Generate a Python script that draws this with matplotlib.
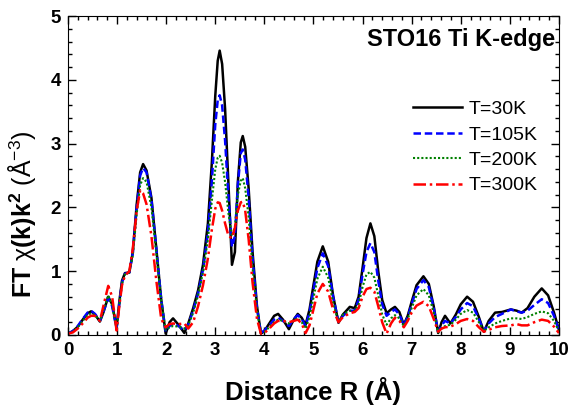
import matplotlib
matplotlib.use("Agg")
import matplotlib.pyplot as plt
from matplotlib.ticker import MultipleLocator

plt.rcParams['font.family'] = ['Liberation Sans', 'DejaVu Sans']
plt.rcParams['mathtext.fontset'] = 'custom'
plt.rcParams['mathtext.bf'] = 'Liberation Sans:bold'
plt.rcParams['mathtext.rm'] = 'Liberation Sans'
plt.rcParams['mathtext.it'] = 'Liberation Sans'

# distance grid (Angstrom)
R = [0.0, 0.1, 0.2, 0.3, 0.4, 0.47, 0.55, 0.65, 0.72, 0.82, 0.9, 0.99,
     1.05, 1.1, 1.16, 1.25, 1.32, 1.4, 1.47, 1.53, 1.6, 1.7, 1.8, 1.9,
     1.99, 2.07, 2.14, 2.25, 2.37, 2.45, 2.55, 2.65, 2.75, 2.85, 2.93, 3.0,
     3.05, 3.09, 3.14, 3.2, 3.27, 3.34, 3.4, 3.46, 3.52, 3.56, 3.61, 3.68,
     3.76, 3.85, 3.93, 4.0, 4.1, 4.2, 4.28, 4.38, 4.5, 4.6, 4.68, 4.76,
     4.84, 4.92, 5.0, 5.08, 5.19, 5.3, 5.4, 5.51, 5.6, 5.74, 5.84, 5.92,
     6.0, 6.08, 6.16, 6.24, 6.32, 6.4, 6.49, 6.58, 6.66, 6.75, 6.84, 6.92,
     7.0, 7.1, 7.24, 7.35, 7.45, 7.54, 7.61, 7.68, 7.79, 7.9, 8.0, 8.13,
     8.25, 8.37, 8.47, 8.57, 8.7, 8.84, 9.02, 9.14, 9.24, 9.36, 9.5, 9.65,
     9.78, 9.9, 10.0]

ft_30K = [0.02, 0.06, 0.13, 0.24, 0.34, 0.37, 0.32, 0.21, 0.35, 0.60, 0.48, 0.11,
          0.55, 0.85, 0.97, 0.98, 1.30, 2.05, 2.55, 2.68, 2.58, 2.15, 1.35, 0.55,
          0.02, 0.20, 0.26, 0.16, 0.03, 0.18, 0.42, 0.70, 1.10, 1.75, 2.70, 3.75,
          4.30, 4.46, 4.25, 3.55, 2.35, 1.10, 1.30, 2.40, 3.02, 3.12, 2.95, 2.30,
          1.30, 0.45, 0.02, 0.06, 0.18, 0.30, 0.33, 0.24, 0.09, 0.24, 0.33, 0.27,
          0.16, 0.40, 0.78, 1.15, 1.39, 1.15, 0.62, 0.19, 0.32, 0.44, 0.42, 0.60,
          1.05, 1.52, 1.75, 1.55, 1.00, 0.55, 0.34, 0.40, 0.44, 0.36, 0.16, 0.30,
          0.52, 0.78, 0.92, 0.80, 0.45, 0.03, 0.20, 0.30, 0.18, 0.32, 0.48, 0.60,
          0.52, 0.28, 0.05, 0.22, 0.35, 0.36, 0.40, 0.38, 0.35, 0.42, 0.60, 0.73,
          0.62, 0.35, 0.08]

ft_105K = [0.02, 0.06, 0.14, 0.25, 0.35, 0.38, 0.33, 0.22, 0.36, 0.58, 0.45, 0.10,
           0.52, 0.82, 0.96, 0.98, 1.28, 2.00, 2.50, 2.62, 2.55, 2.12, 1.35, 0.55,
           0.05, 0.14, 0.18, 0.14, 0.07, 0.16, 0.38, 0.65, 1.02, 1.60, 2.40, 3.30,
           3.68, 3.76, 3.60, 3.05, 2.15, 1.38, 1.55, 2.35, 2.85, 2.91, 2.75, 2.15,
           1.20, 0.42, 0.03, 0.07, 0.15, 0.24, 0.27, 0.22, 0.14, 0.25, 0.31, 0.25,
           0.14, 0.35, 0.70, 1.05, 1.28, 1.08, 0.60, 0.20, 0.30, 0.38, 0.38, 0.55,
           0.95, 1.30, 1.44, 1.30, 0.85, 0.48, 0.30, 0.36, 0.40, 0.32, 0.15, 0.28,
           0.48, 0.72, 0.86, 0.75, 0.42, 0.05, 0.15, 0.22, 0.18, 0.28, 0.40, 0.50,
           0.45, 0.25, 0.06, 0.18, 0.28, 0.33, 0.40, 0.37, 0.35, 0.38, 0.47, 0.56,
           0.50, 0.30, 0.07]

ft_200K = [0.02, 0.05, 0.12, 0.22, 0.31, 0.34, 0.31, 0.22, 0.38, 0.62, 0.47, 0.10,
           0.50, 0.80, 0.95, 0.98, 1.25, 1.90, 2.35, 2.46, 2.40, 2.00, 1.28, 0.52,
           0.08, 0.12, 0.14, 0.13, 0.10, 0.15, 0.35, 0.62, 0.98, 1.50, 2.10, 2.60,
           2.78, 2.81, 2.70, 2.40, 1.90, 1.55, 1.70, 2.20, 2.42, 2.46, 2.30, 1.85,
           1.05, 0.38, 0.04, 0.05, 0.12, 0.20, 0.24, 0.22, 0.18, 0.23, 0.26, 0.20,
           0.10, 0.28, 0.58, 0.88, 1.07, 0.90, 0.50, 0.20, 0.32, 0.38, 0.38, 0.48,
           0.75, 0.95, 0.99, 0.90, 0.62, 0.32, 0.16, 0.26, 0.31, 0.26, 0.14, 0.25,
           0.42, 0.62, 0.72, 0.62, 0.35, 0.04, 0.10, 0.14, 0.16, 0.24, 0.33, 0.39,
           0.35, 0.20, 0.06, 0.12, 0.18, 0.22, 0.26, 0.26, 0.25, 0.28, 0.33, 0.37,
           0.34, 0.22, 0.06]

ft_300K = [0.02, 0.04, 0.10, 0.18, 0.27, 0.30, 0.30, 0.22, 0.45, 0.77, 0.60, 0.07,
           0.48, 0.78, 0.93, 1.00, 1.35, 1.95, 2.27, 2.22, 2.05, 1.55, 0.85, 0.25,
           0.12, 0.17, 0.18, 0.17, 0.18, 0.10, 0.20, 0.45, 0.78, 1.20, 1.65, 1.98,
           2.08, 2.07, 1.95, 1.75, 1.55, 1.52, 1.68, 1.95, 2.08, 2.09, 1.95, 1.50,
           0.82, 0.25, 0.02, 0.03, 0.10, 0.18, 0.22, 0.22, 0.20, 0.22, 0.24, 0.18,
           0.03, 0.15, 0.40, 0.65, 0.80, 0.68, 0.40, 0.20, 0.28, 0.34, 0.36, 0.42,
           0.60, 0.72, 0.74, 0.68, 0.45, 0.20, 0.02, 0.18, 0.27, 0.22, 0.12, 0.22,
           0.35, 0.46, 0.52, 0.45, 0.25, 0.05, 0.10, 0.12, 0.13, 0.17, 0.22, 0.25,
           0.22, 0.12, 0.05, 0.08, 0.12, 0.14, 0.15, 0.17, 0.15, 0.15, 0.20, 0.24,
           0.22, 0.13, 0.03]

fig = plt.figure(figsize=(5.81, 4.05), dpi=100)
ax = fig.add_axes([0.117, 0.173, 0.845, 0.787])

ax.plot(R, ft_30K, color='black', lw=1.8, ls='-', label='T=30K')
ax.plot(R, ft_105K, color='#0000ff', lw=1.8, ls=(0, (3, 1.5)), label='T=105K')
ax.plot(R, ft_200K, color='#008000', lw=1.5, ls=(0, (1, 1)), label='T=200K')
ax.plot(R, ft_300K, color='#ff0000', lw=1.8, ls=(0, (5, 1.5, 1, 1.5)), label='T=300K')

ax.set_xlim(0, 10)
ax.set_ylim(0, 5)
ax.xaxis.set_major_locator(MultipleLocator(1))
ax.xaxis.set_minor_locator(MultipleLocator(0.2))
ax.yaxis.set_major_locator(MultipleLocator(1))
ax.yaxis.set_minor_locator(MultipleLocator(0.2))
ax.tick_params(which='both', direction='in', top=True, right=True, width=1)
ax.tick_params(which='major', length=6, labelsize=13.5, pad=5)
ax.tick_params(which='minor', length=3)
for lbl in ax.get_xticklabels() + ax.get_yticklabels():
    lbl.set_fontweight('bold')

ax.set_xlabel('Distance R (Å)', fontsize=18.5, fontweight='bold', labelpad=13)
ax.set_ylabel(r'$\mathbf{FT}\ \chi\mathbf{(k)k}^{\mathbf{2}}\ (\mathrm{Å}^{-3})$', fontsize=18)
ax.yaxis.set_label_coords(-0.062, 0.38)

ax.text(0.992, 0.962, 'STO16 Ti K-edge', transform=ax.transAxes, ha='right', va='top',
        fontsize=17, fontweight='bold')

ax.legend(loc='upper left', bbox_to_anchor=(0.703, 0.735), borderaxespad=0, borderpad=0,
          frameon=False, fontsize=14, handlelength=2.5, handletextpad=0.35,
          labelspacing=0.4)

plt.savefig('out.png', dpi=100)
plt.close(fig)
